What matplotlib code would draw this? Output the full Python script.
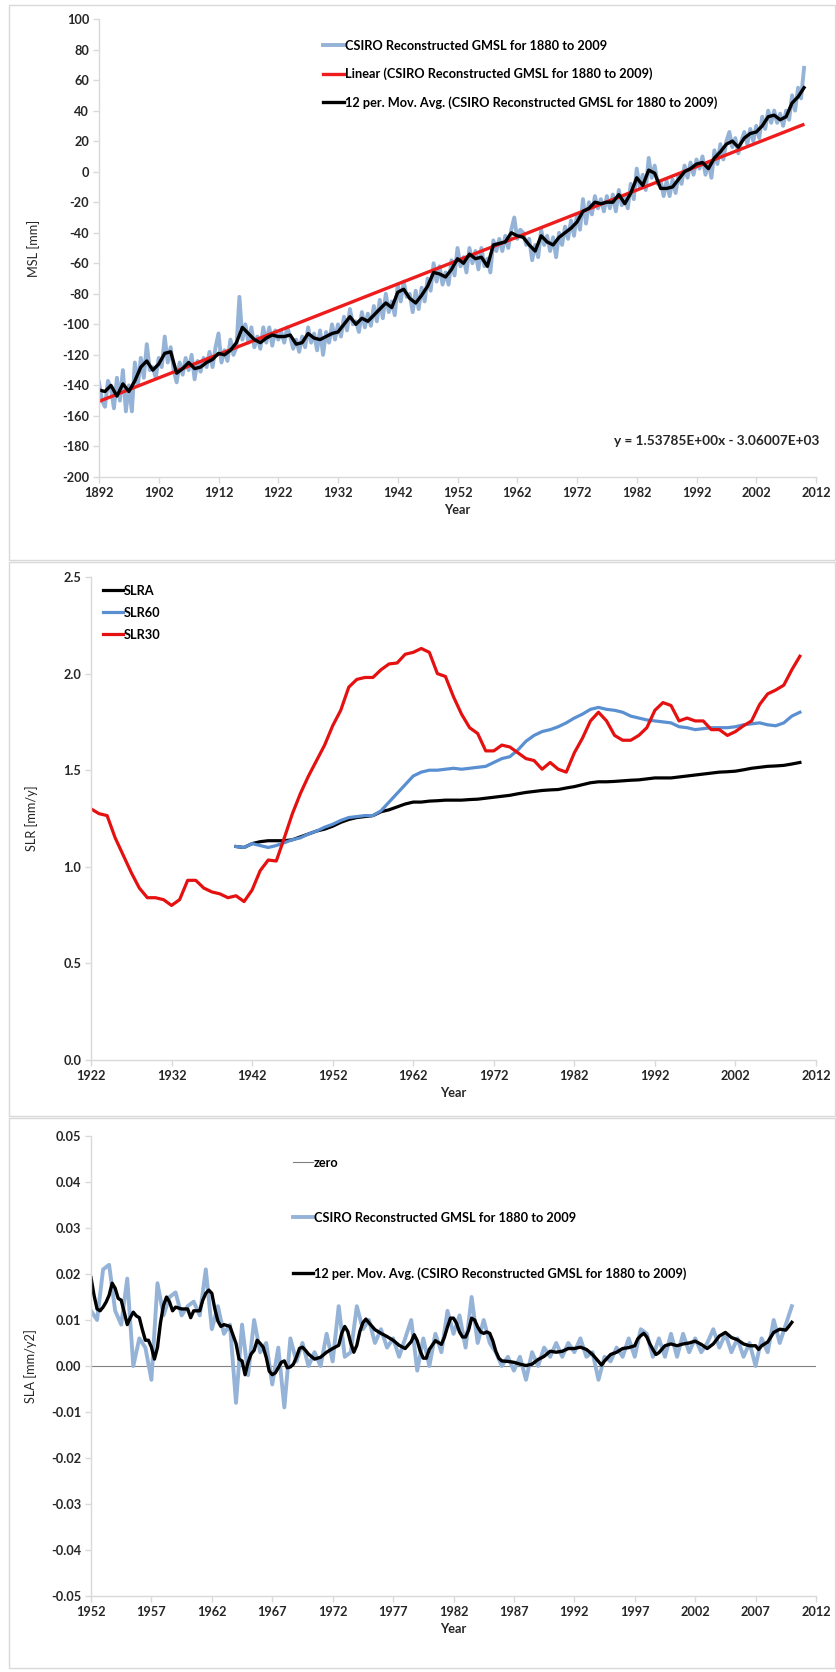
import numpy as np
import matplotlib
matplotlib.use("Agg")
from matplotlib import pyplot as plt
from matplotlib.patches import Rectangle

plt.rcParams['font.family'] = ['Lato', 'DejaVu Sans']
plt.rcParams['axes.unicode_minus'] = False

# ---- Panel 1: CSIRO reconstructed GMSL (mm) ----
msl_start = 1892
# half-year raw values, 1892.0 .. 2010.0
msl_raw = [
    -138, -150, -154, -137, -142, -155, -135, -150, -130, -157,
    -140, -157, -125, -140, -122, -135, -113, -130, -128, -135,
    -122, -128, -108, -125, -115, -130, -138, -125, -133, -122,
    -130, -120, -136, -124, -131, -122, -128, -118, -128, -115,
    -106, -125, -117, -124, -110, -120, -115, -82, -110, -100,
    -112, -102, -115, -108, -116, -102, -112, -102, -114, -104,
    -110, -105, -112, -102, -108, -116, -110, -118, -108, -115,
    -102, -112, -106, -117, -104, -120, -105, -112, -100, -110,
    -100, -108, -95, -104, -90, -100, -98, -105, -92, -102,
    -93, -101, -88, -98, -84, -96, -80, -92, -85, -94,
    -74, -85, -72, -82, -80, -92, -78, -90, -76, -85,
    -70, -78, -60, -72, -62, -74, -66, -74, -58, -68,
    -50, -62, -56, -66, -50, -60, -52, -64, -50, -62,
    -57, -66, -45, -52, -44, -52, -42, -50, -38, -30,
    -44, -38, -40, -48, -44, -58, -48, -56, -38, -48,
    -42, -52, -43, -56, -40, -48, -36, -44, -32, -42,
    -28, -38, -18, -34, -20, -28, -16, -24, -18, -26,
    -16, -24, -15, -26, -12, -22, -16, -24, -8, -18,
    2, -10, -2, -12, 9, -4, 4, -8, -6, -16,
    -6, -16, -5, -14, -2, -8, 4, -4, 6, -2,
    8, 2, 10, -2, 6, -4, 14, 5, 18, 8,
    20, 26, 16, 22, 12, 20, 26, 18, 28, 20,
    30, 22, 36, 28, 40, 32, 40, 32, 38, 30,
    40, 34, 50, 40, 55, 48,
    68,
]
# yearly 12-period moving average, 1892 .. 2010
msl_avg = [
    -143, -144, -140, -147, -139, -144, -137, -128, -124, -130,
    -126, -119, -118, -132, -129, -125, -129, -128, -125, -123,
    -119, -120, -117, -112, -102, -106, -110, -112, -109, -107,
    -108, -108, -107, -113, -112, -106, -109, -110, -108, -106,
    -105, -100, -95, -100, -96, -98, -94, -90, -86, -89,
    -79, -77, -83, -86, -81, -75, -66, -67, -69, -64,
    -57, -60, -54, -57, -56, -62, -48, -47, -46, -40,
    -42, -43, -48, -52, -42, -46, -48, -43, -40, -37,
    -33, -26, -24, -20, -21, -20, -20, -15, -21, -14,
    -4, -9, 1, -1, -11, -11, -10, -5, 0, 2,
    5, 6, 2, 9, 13, 18, 20, 16, 22, 25,
    26, 30, 36, 37, 34, 36, 45, 49, 55,
]
trend_slope = 1.53785
trend_icpt = -3060.07
trend_years = [1892, 2009.8]

# ---- Panel 2: sea level rise rates (mm/y) ----
slr30_start = 1922
slr30 = [
    1.30, 1.275, 1.265, 1.15, 1.06, 0.97, 0.89, 0.84, 0.84, 0.83,
    0.80, 0.83, 0.93, 0.93, 0.89, 0.87, 0.86, 0.84, 0.85, 0.82,
    0.88, 0.98, 1.035, 1.03, 1.15, 1.275, 1.38, 1.47, 1.55, 1.63,
    1.73, 1.81, 1.93, 1.97, 1.98, 1.98, 2.02, 2.05, 2.055, 2.10,
    2.11, 2.13, 2.11, 2.00, 1.985, 1.88, 1.79, 1.72, 1.69, 1.60,
    1.60, 1.63, 1.62, 1.59, 1.56, 1.55, 1.505, 1.54, 1.505, 1.49,
    1.59, 1.665, 1.755, 1.80, 1.755, 1.68, 1.655, 1.655, 1.68, 1.72,
    1.81, 1.85, 1.835, 1.755, 1.77, 1.755, 1.755, 1.71, 1.71, 1.68,
    1.70, 1.73, 1.755, 1.84, 1.895, 1.915, 1.94, 2.02, 2.09,
]
slr_start = 1940
slr60 = [
    1.105, 1.10, 1.12, 1.11, 1.10, 1.11, 1.125, 1.14, 1.15, 1.17,
    1.185, 1.205, 1.22, 1.24, 1.255, 1.26, 1.265, 1.265, 1.29, 1.335,
    1.38, 1.425, 1.47, 1.49, 1.50, 1.50, 1.505, 1.51, 1.505, 1.51,
    1.515, 1.52, 1.54, 1.56, 1.57, 1.605, 1.65, 1.68, 1.70, 1.71,
    1.725, 1.745, 1.77, 1.79, 1.815, 1.825, 1.815, 1.81, 1.80, 1.78,
    1.77, 1.76, 1.755, 1.75, 1.745, 1.725, 1.72, 1.71, 1.715, 1.72,
    1.72, 1.72, 1.725, 1.735, 1.74, 1.745, 1.735, 1.73, 1.745, 1.78,
    1.80,
]
slra = [
    1.105, 1.10, 1.12, 1.13, 1.135, 1.135, 1.135, 1.14, 1.155, 1.17,
    1.185, 1.195, 1.21, 1.23, 1.245, 1.255, 1.26, 1.265, 1.285, 1.295,
    1.31, 1.325, 1.335, 1.335, 1.34, 1.342, 1.345, 1.345, 1.345, 1.348,
    1.35, 1.355, 1.36, 1.365, 1.37, 1.378, 1.385, 1.39, 1.395, 1.398,
    1.40, 1.408, 1.415, 1.425, 1.435, 1.44, 1.44, 1.442, 1.445, 1.448,
    1.45, 1.455, 1.46, 1.46, 1.46, 1.465, 1.47, 1.475, 1.48, 1.485,
    1.49, 1.492, 1.495, 1.502, 1.51, 1.515, 1.52, 1.522, 1.525, 1.532,
    1.54,
]

# ---- Panel 3: sea level acceleration (mm/y2), values x 0.001 ----
sla_start = 1952
sla_raw = [
    12, 10, 21, 22, 12, 9, 19, 0, 6, 4,
    -3, 18, 11, 15, 16, 11, 13, 14, 11, 21,
    8, 13, 7, 9, -8, 9, -2, 10, 3, 5,
    -4, 4, -9, 6, 1, 5, 0, 3, 0, 7,
    1, 13, 2, 3, 13, 8, 10, 5, 8, 4,
    6, 2, 6, 10, -1, 6, 0, 7, 3, 12,
    7, 11, 4, 15, 5, 10, 5, 3, 0, 2,
    -1, 2, -3, 3, 0, 4, 2, 5, 2, 5,
    3, 6, 2, 3, -3, 2, 1, 4, 2, 6,
    2, 8, 7, 2, 6, 2, 7, 2, 7, 3,
    6, 3, 5, 8, 4, 7, 3, 6, 2, 5,
    0, 6, 3, 10, 5, 9, 13,
]
sla_avg_years = [
    1952.0, 1952.25, 1952.5, 1952.75, 1953.0, 1953.25, 1953.5, 1953.75, 1954.0, 1954.25,
    1954.5, 1954.75, 1955.0, 1955.25, 1955.5, 1955.75, 1956.0, 1956.25, 1956.5, 1956.75,
    1957.0, 1957.25, 1957.5, 1957.75, 1958.0, 1958.25, 1958.5, 1958.75, 1959.0, 1959.5,
    1960.0, 1960.25, 1960.5, 1961.0, 1961.25, 1961.5, 1961.75, 1962.0, 1962.25, 1962.5,
    1962.75, 1963.0, 1963.5, 1964.0, 1964.25, 1964.5, 1964.75, 1965.0, 1965.25, 1965.5,
    1965.75, 1966.0, 1966.25, 1966.5, 1966.75, 1967.0, 1967.25, 1967.5, 1967.75, 1968.0,
    1968.25, 1968.5, 1968.75, 1969.0, 1969.25, 1969.5, 1969.75, 1970.0, 1970.5, 1971.0,
    1971.5, 1972.0, 1972.5, 1972.75, 1973.0, 1973.25, 1973.5, 1973.75, 1974.0, 1974.25,
    1974.5, 1974.75, 1975.0, 1975.5, 1976.0, 1976.5, 1977.0, 1977.5, 1978.0, 1978.5,
    1978.75, 1979.0, 1979.25, 1979.5, 1979.75, 1980.0, 1980.5, 1981.0, 1981.25, 1981.5,
    1981.75, 1982.0, 1982.25, 1982.5, 1982.75, 1983.0, 1983.25, 1983.5, 1983.75, 1984.0,
    1984.25, 1984.5, 1984.75, 1985.0, 1985.25, 1985.5, 1985.75, 1986.0, 1986.5, 1987.0,
    1987.5, 1988.0, 1988.5, 1989.0, 1989.5, 1990.0, 1990.5, 1991.0, 1991.5, 1992.0,
    1992.5, 1993.0, 1993.5, 1994.0, 1994.25, 1994.5, 1995.0, 1995.5, 1996.0, 1996.5,
    1997.0, 1997.25, 1997.5, 1997.75, 1998.0, 1998.25, 1998.5, 1998.75, 1999.0, 1999.5,
    2000.0, 2000.5, 2001.0, 2001.5, 2002.0, 2002.5, 2003.0, 2003.5, 2004.0, 2004.5,
    2005.0, 2005.5, 2006.0, 2006.5, 2007.0, 2007.25, 2007.5, 2008.0, 2008.5, 2009.0,
    2009.5, 2009.75, 2010.0,
]
sla_avg = [
    19.2, 15.4, 12.4, 12.0, 12.8, 13.9, 15.4, 18.0, 16.9, 14.7,
    14.3, 11.7, 9.0, 10.5, 11.7, 10.9, 10.5, 7.9, 5.6, 5.6,
    4.1, 1.5, 4.0, 9.4, 13.2, 15.0, 13.9, 12.0, 12.8, 12.4,
    12.4, 10.5, 12.0, 12.0, 14.3, 15.8, 16.5, 15.8, 12.4, 9.8,
    8.6, 9.0, 8.6, 4.9, 1.5, 1.1, -1.9, 0.8, 2.6, 3.4,
    5.6, 4.9, 4.1, 1.9, -1.1, -1.9, -1.5, -0.4, 0.8, 1.1,
    -0.4, -0.2, 0.4, 1.9, 3.8, 4.1, 3.4, 2.6, 1.5, 1.9,
    3.0, 3.8, 4.5, 7.1, 8.6, 7.5, 4.9, 3.0, 4.5, 7.5,
    9.4, 10.2, 9.4, 7.9, 7.1, 6.4, 5.6, 4.5, 3.8, 5.3,
    6.8, 5.5, 3.2, 1.7, 1.7, 3.6, 5.5, 4.7, 6.3, 8.5,
    10.4, 10.4, 9.3, 7.4, 6.3, 6.3, 7.8, 10.4, 10.0, 8.5,
    7.4, 7.1, 7.4, 7.1, 5.5, 3.2, 1.7, 1.1, 1.0, 0.8,
    0.4, 0.1, 0.4, 1.4, 2.1, 3.2, 3.0, 3.2, 3.8, 3.8,
    4.1, 3.6, 2.5, 1.0, 0.2, 1.1, 2.5, 3.0, 3.8, 4.0,
    4.4, 5.9, 6.6, 7.1, 6.3, 4.8, 3.6, 2.5, 2.9, 4.4,
    4.8, 4.4, 4.8, 5.0, 5.4, 4.7, 3.8, 4.8, 6.5, 7.3,
    6.2, 5.7, 4.8, 4.4, 4.4, 3.6, 4.4, 5.2, 7.3, 8.0,
    7.8, 8.6, 9.5,
]

# axis ticks
p1_xticks = list(range(1892, 2013, 10))
p1_yticks = list(range(-200, 101, 20))
p2_xticks = list(range(1922, 2013, 10))
p2_yticks = [0.0, 0.5, 1.0, 1.5, 2.0, 2.5]
p3_xticks = list(range(1952, 2013, 5))
p3_yticks = [-0.05, -0.04, -0.03, -0.02, -0.01, 0.0, 0.01, 0.02, 0.03, 0.04, 0.05]

LABEL_LEG = "CSIRO Reconstructed GMSL for 1880 to 2009"
GRID = '#d9d9d9'
TXT = '#262626'
LIGHT_BLUE = '#95b3d7'
FS = 9.2
W, H = 837, 1672


def style_axes(ax, xticks, yticks, yfmt):
    for s in ('top', 'right'):
        ax.spines[s].set_visible(False)
    for s in ('left', 'bottom'):
        ax.spines[s].set_color(GRID)
        ax.spines[s].set_linewidth(1.0)
    ax.set_xticks(xticks, labels=[str(t) for t in xticks], fontsize=FS,
                  fontweight='bold', color=TXT)
    ax.set_yticks(yticks, labels=[yfmt.format(t) for t in yticks], fontsize=FS,
                  fontweight='bold', color=TXT)
    ax.tick_params(direction='out', length=4, width=1, color=GRID, pad=3)


def place(left, top, right, bottom):
    return fig.add_axes([left / W, 1 - bottom / H, (right - left) / W, (bottom - top) / H])


def legend(ax, x, y, spacing):
    ax.legend(loc='upper left', bbox_to_anchor=(x, y), frameon=False,
              handlelength=1.6, handletextpad=0.05, labelspacing=spacing,
              borderaxespad=0, borderpad=0, prop={'size': FS, 'weight': 'bold'})


fig = plt.figure(figsize=(8.37, 16.72), dpi=100)
fig.patch.set_facecolor('white')

# panel frames
for (top, bot) in [(5, 560), (562, 1116), (1118, 1668)]:
    fig.patches.append(Rectangle((9 / W, 1 - bot / H), 826 / W, (bot - top) / H,
                                 transform=fig.transFigure, fill=False,
                                 edgecolor=GRID, linewidth=1.0))

# ---------- panel 1 ----------
ax1 = place(99, 19, 816, 477)
yr_raw = msl_start + 0.5 * np.arange(len(msl_raw))
yr_avg = msl_start + np.arange(len(msl_avg))
yr_trend = np.array(trend_years)
ax1.plot(yr_raw, msl_raw, color=LIGHT_BLUE, lw=2.8, solid_joinstyle='round', label=LABEL_LEG)
ax1.plot(yr_trend, trend_slope * yr_trend + trend_icpt, color='#ee1c1c', lw=2.4,
         label="Linear (" + LABEL_LEG + ")")
ax1.plot(yr_avg, msl_avg, color='black', lw=2.4, solid_joinstyle='round',
         label="12 per. Mov. Avg. (" + LABEL_LEG + ")")
ax1.set_xlim(1892, 2012)
ax1.set_ylim(-200, 100)
ax1.set_xlabel("Year", fontsize=FS, fontweight='bold', color=TXT, labelpad=4)
ax1.set_ylabel("MSL [mm]", fontsize=FS, color=TXT, labelpad=16)
ax1.text(1.005, 0.078, "y = 1.53785E+00x - 3.06007E+03", transform=ax1.transAxes,
         ha='right', va='center', fontsize=9.8, fontweight='bold', color=TXT)
legend(ax1, 0.313, 0.955, 1.25)
style_axes(ax1, p1_xticks, p1_yticks, "{:d}")

# ---------- panel 2 ----------
ax2 = place(91, 577, 816, 1060)
yr30 = slr30_start + np.arange(len(slr30))
yr60 = slr_start + np.arange(len(slr60))
ax2.plot(yr60, slra, color='black', lw=2.3, label='SLRA')
ax2.plot(yr60, slr60, color='#5a8fd2', lw=2.3, label='SLR60')
ax2.plot(yr30, slr30, color='#e51010', lw=2.3, label='SLR30')
ax2.set_xlim(1922, 2012)
ax2.set_ylim(0, 2.5)
ax2.set_xlabel("Year", fontsize=FS, fontweight='bold', color=TXT, labelpad=4)
ax2.set_ylabel("SLR [mm/y]", fontsize=FS, color=TXT, labelpad=18)
legend(ax2, 0.016, 0.984, 0.78)
style_axes(ax2, p2_xticks, p2_yticks, "{:.1f}")

# ---------- panel 3 ----------
ax3 = place(91, 1136, 816, 1596)
yr_sla = sla_start + 0.5 * np.arange(len(sla_raw))
ax3.plot([1952, 2012], [0, 0], color='#808080', lw=0.8, label='zero')
ax3.plot(yr_sla, np.array(sla_raw) * 0.001, color=LIGHT_BLUE, lw=2.8,
         solid_joinstyle='round', label=LABEL_LEG)
ax3.plot(sla_avg_years, np.array(sla_avg) * 0.001, color='black', lw=2.4,
         solid_joinstyle='round', label="12 per. Mov. Avg. (" + LABEL_LEG + ")")
ax3.set_xlim(1952, 2012)
ax3.set_ylim(-0.05, 0.05)
ax3.set_xlabel("Year", fontsize=FS, fontweight='bold', color=TXT, labelpad=4)
ax3.set_ylabel("SLA [mm/y2]", fontsize=FS, color=TXT, labelpad=10)
legend(ax3, 0.278, 0.955, 3.38)
style_axes(ax3, p3_xticks, p3_yticks, "{:.2f}")

fig.savefig('out.png', dpi=100, facecolor='white')
